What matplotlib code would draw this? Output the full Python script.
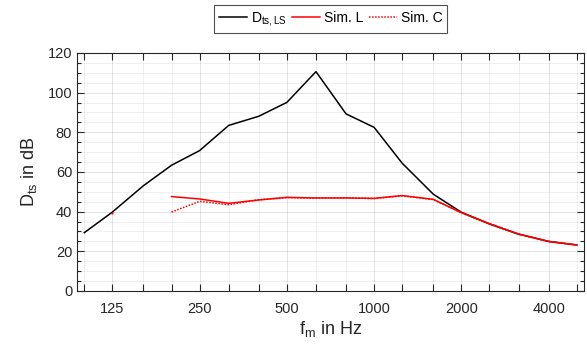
import matplotlib
matplotlib.use("Agg")
import matplotlib.pyplot as plt
import numpy as np

plt.rcParams["font.family"] = ["Liberation Sans", "DejaVu Sans"]
plt.rcParams["mathtext.fontset"] = "custom"
plt.rcParams["mathtext.rm"] = "Liberation Sans"
plt.rcParams["mathtext.it"] = "Liberation Sans"

# third-octave centre frequencies (Hz)
freqs = np.array([100, 125, 160, 200, 250, 315, 400, 500, 630, 800,
                  1000, 1250, 1600, 2000, 2500, 3150, 4000, 5000])
labelled = [125, 250, 500, 1000, 2000, 4000]

d_ts_ls = np.array([29.4, 39.8, 53.1, 63.4, 70.8, 83.5, 88.1, 95.1, 110.6, 89.3,
                    82.5, 64.4, 48.8, 39.7, 33.8, 28.7, 25.0, 23.2])
sim_l = np.array([np.nan, 39.3, np.nan, 47.6, 46.4, 44.2, 45.9, 47.2, 46.9, 46.9,
                  46.7, 48.1, 46.2, 39.5, 33.9, 28.7, 25.0, 23.2])
sim_c = np.array([np.nan, np.nan, np.nan, 39.8, 45.2, 43.5, 46.0, 47.1, 46.8, 47.0,
                  46.6, 48.0, 46.1, 39.4, 33.8, 28.6, 24.9, 23.1])

dark = (0.15, 0.15, 0.15)

fig = plt.figure(figsize=(5.87, 3.47), dpi=100)
ax = fig.add_axes([0.1312, 0.1614, 0.8637, 0.6859])

ax.plot(freqs, d_ts_ls, color="black", lw=1.1, label=r"D$_{\mathregular{ts,LS}}$")
ax.plot(freqs, sim_l, color="red", lw=1.1, label="Sim. L")
ax.plot(freqs, sim_c, color="red", lw=1.1, ls=(0, (1, 1)), label="Sim. C")
# isolated value of Sim. L only shows as a small mark
iso = [i for i in range(len(sim_l)) if not np.isnan(sim_l[i])
       and (i == 0 or np.isnan(sim_l[i - 1]))
       and (i == len(sim_l) - 1 or np.isnan(sim_l[i + 1]))]
ax.plot(freqs[iso], sim_l[iso], ls="none", marker="s", ms=2, color="red", mec="none")

ax.set_xscale("log")
ax.set_xlim(100 / 2 ** (1 / 12), 5000 * 2 ** (1 / 12))
ax.set_ylim(0, 120)
ax.set_xticks(labelled)
ax.set_xticklabels([str(f) for f in labelled])
ax.set_xticks([f for f in freqs if f not in labelled], minor=True)
ax.set_xticklabels([], minor=True)
ax.set_yticks(np.arange(0, 121, 20))
ax.set_yticks(np.arange(0, 121, 5), minor=True)

ax.grid(True, which="major", color=dark, alpha=0.15, lw=0.6)
ax.grid(True, which="minor", color=dark, alpha=0.08, lw=0.6)
ax.set_axisbelow(True)

ax.tick_params(which="both", direction="in", top=True, right=True, colors=dark,
               labelsize=10.5)
ax.tick_params(which="major", length=5, width=0.8)
ax.tick_params(which="minor", length=3, width=0.8)
ax.tick_params(axis="x", which="minor", length=5)
ax.tick_params(axis="x", pad=8)
for s in ax.spines.values():
    s.set_color(dark)
    s.set_linewidth(0.8)

ax.set_xlabel(r"f$_{\mathregular{m}}$ in Hz", fontsize=13, color=dark, labelpad=2)
ax.set_ylabel(r"D$_{\mathregular{ts}}$ in dB", fontsize=13, color=dark, labelpad=6)

leg = fig.legend(loc="upper center", bbox_to_anchor=(0.5637, 0.985), ncol=3,
                 fontsize=10, frameon=True, fancybox=False, handlelength=2.0,
                 handletextpad=0.3, columnspacing=0.4, borderpad=0.35,
                 borderaxespad=0)
leg.get_frame().set_edgecolor(dark)
leg.get_frame().set_linewidth(0.8)

fig.savefig("out.png", dpi=100)
